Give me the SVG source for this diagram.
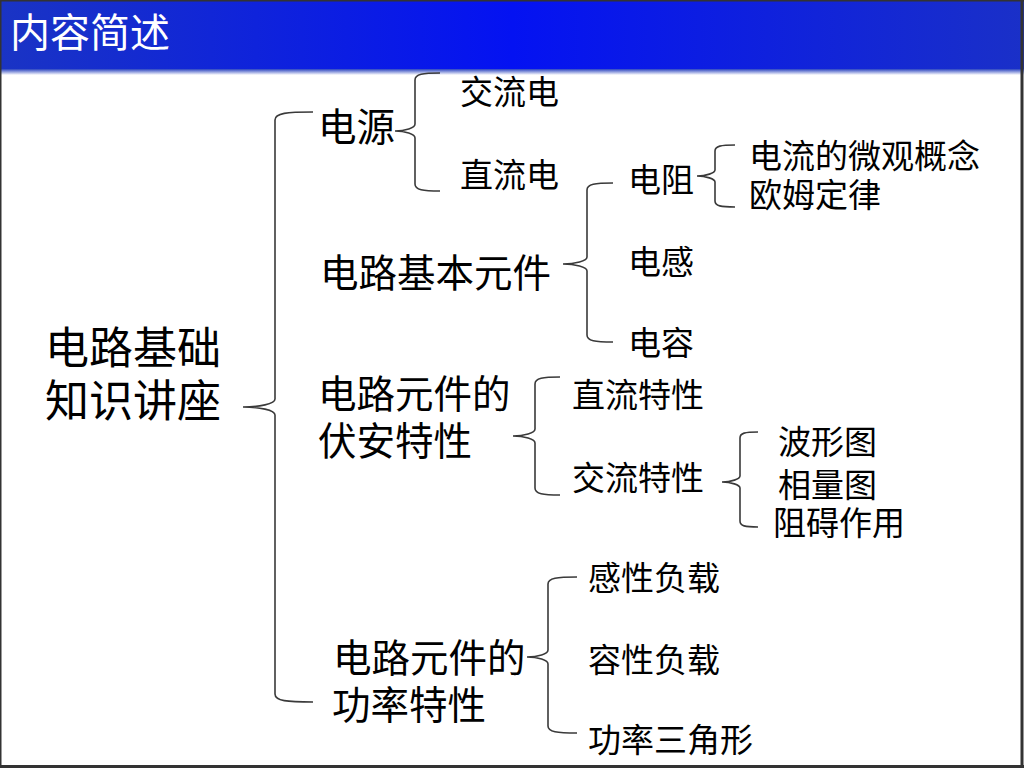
<svg xmlns="http://www.w3.org/2000/svg" width="1024" height="768" viewBox="0 0 1024 768">
<style>
.t{font-family:"Noto Sans CJK SC","Noto Sans CJK JP",sans-serif;fill:#000}
.l1{font-size:44px}
.l2{font-size:38.5px}
.l3{font-size:33px}
.br{fill:none;stroke:#3a3a3a;stroke-width:1.6}
</style>
<defs>
<linearGradient id="hb" x1="0" y1="0" x2="1" y2="0">
<stop offset="0" stop-color="#1a34c4"/>
<stop offset="0.5" stop-color="#0412f2"/>
<stop offset="1" stop-color="#1a30c8"/>
</linearGradient>
<linearGradient id="hs" x1="0" y1="0" x2="0" y2="1">
<stop offset="0" stop-color="#2a44c0"/>
<stop offset="1" stop-color="#ffffff"/>
</linearGradient>
</defs>
<rect x="0" y="0" width="1024" height="768" fill="#ffffff"/>
<rect x="0" y="0" width="1024" height="69" fill="url(#hb)"/>
<rect x="0" y="69" width="1024" height="6" fill="url(#hs)"/>
<g id="title"><text x="10" y="47" font-family="Noto Sans CJK SC, sans-serif" font-size="40" fill="#ffffff">内容简述</text></g>

<g id="connectors">
<path class="br" d="M313,112 C287,112 275,113 275,120 L275,399 C275,404 259,407 243,407 C259,407 275,410 275,415 L275,694 C275,701 287,702 313,702"/>
<path class="br" d="M440,73 C423,73 415,74 415,80 L415,124 C415,128 405,131 395,131 C405,131 415,134 415,138 L415,184 C415,190 423,191 440,191"/>
<path class="br" d="M613,183 C595,183 587,184 587,190 L587,257 C587,261 575,264 563,264 C575,264 587,267 587,271 L587,335 C587,341 595,342 613,342"/>
<path class="br" d="M735,145 C721,145 715,146 715,151 L715,170 C715,173 706,176 697,176 C706,176 715,179 715,182 L715,201 C715,206 721,207 735,207"/>
<path class="br" d="M560,377 C543,377 535,378 535,384 L535,429 C535,433 524,436 513,436 C524,436 535,439 535,443 L535,488 C535,494 543,495 560,495"/>
<path class="br" d="M758,432 C745,432 740,433 740,438 L740,476 C740,479 731,482 722,482 C731,482 740,485 740,488 L740,521 C740,526 745,527 758,527"/>
<path class="br" d="M577,577 C557,577 548,578 548,584 L548,650 C548,654 538,657 527,657 C538,657 548,660 548,664 L548,726 C548,732 557,733 577,733"/>
</g>

<g id="root"><text class="t l1" x="45" y="364">电路基础</text><text class="t l1" x="45" y="417">知识讲座</text></g>
<g id="dianyuan"><text class="t l2" x="318" y="141">电源</text></g>
<g id="jiaoliudian"><text class="t l3" x="460" y="104">交流电</text></g>
<g id="zhiliudian"><text class="t l3" x="460" y="187">直流电</text></g>
<g id="yuanjian"><text class="t l2" x="320" y="287">电路基本元件</text></g>
<g id="dianzu"><text class="t l3" x="628" y="192">电阻</text></g>
<g id="weiguan"><text class="t l3" x="749" y="168">电流的微观概念</text></g>
<g id="oumu"><text class="t l3" x="749" y="207">欧姆定律</text></g>
<g id="diangan"><text class="t l3" x="628" y="274">电感</text></g>
<g id="dianrong"><text class="t l3" x="628" y="355">电容</text></g>
<g id="fuan"><text class="t l2" x="318" y="408">电路元件的</text><text class="t l2" x="318" y="455">伏安特性</text></g>
<g id="zhiliutexing"><text class="t l3" x="572" y="407">直流特性</text></g>
<g id="jiaoliutexing"><text class="t l3" x="572" y="490">交流特性</text></g>
<g id="boxing"><text class="t l3" x="778" y="454">波形图</text></g>
<g id="xiangliang"><text class="t l3" x="778" y="497">相量图</text></g>
<g id="zuai"><text class="t l3" x="773" y="535">阻碍作用</text></g>
<g id="gonglv"><text class="t l2" x="333" y="672">电路元件的</text><text class="t l2" x="332" y="719">功率特性</text></g>
<g id="ganxing"><text class="t l3" x="588" y="590">感性负载</text></g>
<g id="rongxing"><text class="t l3" x="588" y="672">容性负载</text></g>
<g id="sanjiao"><text class="t l3" x="588" y="752">功率三角形</text></g>

<g id="frame" fill="none" stroke="#333333">
<line x1="0.75" y1="0" x2="0.75" y2="768" stroke-width="1.5"/>
<line x1="0" y1="0.75" x2="1024" y2="0.75" stroke-width="1.5"/>
<line x1="1022" y1="0" x2="1022" y2="768" stroke-width="3"/>
<line x1="0" y1="766.5" x2="1024" y2="766.5" stroke-width="3"/>
</g>
</svg>
